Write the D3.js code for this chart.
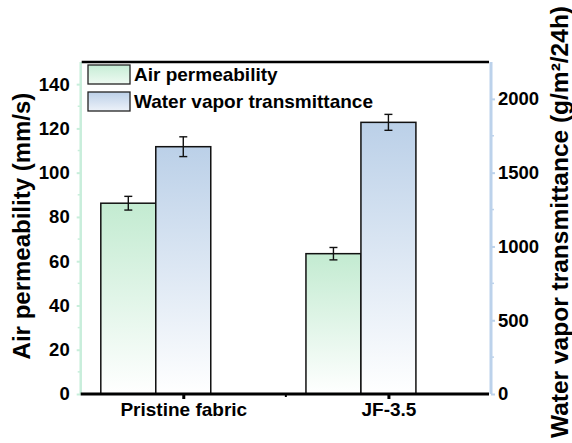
<!DOCTYPE html>
<html>
<head>
<meta charset="utf-8">
<script src="https://cdn.jsdelivr.net/npm/d3@7"></script>
<style>
  body { margin: 0; background: #fff; }
  svg text { font-family: Arial, "Liberation Sans", sans-serif; font-weight: bold; fill: #000; }
</style>
</head>
<body>
<div id="chart"></div>
<script>
// data
const categories = ["Pristine fabric", "JF-3.5"];
const airPerm = [86.2, 63.4];        // mm/s
const airPermErr = [3.1, 2.8];
const wvt = [1676, 1841];            // g/m2/24h
const wvtErr = [67, 54];
const leftTicks = [0, 20, 40, 60, 80, 100, 120, 140];
const rightTicks = [0, 500, 1000, 1500, 2000];
const seriesNames = ["Air permeability", "Water vapor transmittance"];

const W = 572, H = 443;
const plotL = 80.7, plotR = 491, plotT = 62, plotB = 394;
const barW = 0.268;

const green = "#c3ebd1", blue = "#bbd0e8";
const greenAxis = "#c8eedb", blueAxis = "#bcd2eb";

const svg = d3.select("#chart").append("svg")
    .attr("width", W)
    .attr("height", H);

// gradients, colour at the top fading to white
const defs = svg.append("defs");
function grad(id, c0, c1) {
    const g = defs.append("linearGradient")
        .attr("id", id)
        .attr("x1", "0%").attr("y1", "0%")
        .attr("x2", "0%").attr("y2", "100%");
    g.append("stop").attr("offset", "0%").attr("stop-color", c0);
    g.append("stop").attr("offset", "100%").attr("stop-color", c1);
}
grad("g-green", green, "#ffffff");
grad("g-blue", blue, "#ffffff");
grad("g-green-leg", "#c6edd5", "#eefaf2");
grad("g-blue-leg", "#bcd0e8", "#edf2f9");

const x = d3.scaleLinear().domain([0.5, 2.5]).range([plotL, plotR]);
const yL = d3.scaleLinear().domain([0, 150]).range([plotB, plotT]);
const yR = d3.scaleLinear().domain([0, 2250]).range([plotB, plotT]);

// bars
const rows = categories.map((c, i) => ({
    c: c, pos: i + 1,
    a: airPerm[i], ae: airPermErr[i],
    w: wvt[i], we: wvtErr[i]
}));

svg.selectAll("rect.air").data(rows).enter().append("rect")
    .attr("class", "air")
    .attr("x", d => x(d.pos - 1.5 * barW))
    .attr("width", d => x(d.pos - barW / 2) - x(d.pos - 1.5 * barW))
    .attr("y", d => yL(d.a))
    .attr("height", d => yL(0) - yL(d.a))
    .attr("fill", "url(#g-green)")
    .attr("stroke", "#111")
    .attr("stroke-width", 1.5);

svg.selectAll("rect.wvt").data(rows).enter().append("rect")
    .attr("class", "wvt")
    .attr("x", d => x(d.pos - barW / 2))
    .attr("width", d => x(d.pos + barW / 2) - x(d.pos - barW / 2))
    .attr("y", d => yR(d.w))
    .attr("height", d => yR(0) - yR(d.w))
    .attr("fill", "url(#g-blue)")
    .attr("stroke", "#111")
    .attr("stroke-width", 1.5);

// error bars
function errBar(cx, y0, y1) {
    const g = svg.append("g").attr("stroke", "#111").attr("stroke-width", 1.4);
    g.append("line").attr("x1", cx).attr("x2", cx).attr("y1", y0).attr("y2", y1);
    g.append("line").attr("x1", cx - 4).attr("x2", cx + 4).attr("y1", y0).attr("y2", y0);
    g.append("line").attr("x1", cx - 4).attr("x2", cx + 4).attr("y1", y1).attr("y2", y1);
}
rows.forEach(d => {
    errBar(x(d.pos - barW), yL(d.a + d.ae), yL(d.a - d.ae));
    errBar(x(d.pos), yR(d.w + d.we), yR(d.w - d.we));
});

// left axis (green)
const gl = svg.append("g")
    .attr("transform", `translate(${plotL},0)`)
    .call(d3.axisLeft(yL).tickValues(leftTicks).tickSize(4).tickPadding(7));
gl.select(".domain").remove();
gl.selectAll(".tick line").attr("stroke", greenAxis).attr("stroke-width", 2);
gl.selectAll("text").style("font-size", "18.5px");
svg.append("g").selectAll("line")
    .data(d3.range(10, 150, 20)).enter().append("line")
    .attr("x1", plotL - 3).attr("x2", plotL)
    .attr("y1", d => yL(d)).attr("y2", d => yL(d))
    .attr("stroke", greenAxis).attr("stroke-width", 1.5);
svg.append("line")
    .attr("x1", plotL).attr("x2", plotL).attr("y1", plotT).attr("y2", plotB)
    .attr("stroke", greenAxis).attr("stroke-width", 2.5);

// right axis (blue)
const gr = svg.append("g")
    .attr("transform", `translate(${plotR},0)`)
    .call(d3.axisRight(yR).tickValues(rightTicks).tickFormat(d3.format("d"))
        .tickSize(4).tickPadding(3));
gr.select(".domain").remove();
gr.selectAll(".tick line").attr("stroke", blueAxis).attr("stroke-width", 2);
gr.selectAll("text").style("font-size", "18.5px");
svg.append("g").selectAll("line")
    .data(d3.range(250, 2250, 500)).enter().append("line")
    .attr("x1", plotR).attr("x2", plotR + 3)
    .attr("y1", d => yR(d)).attr("y2", d => yR(d))
    .attr("stroke", blueAxis).attr("stroke-width", 1.5);
svg.append("line")
    .attr("x1", plotR).attr("x2", plotR).attr("y1", plotT).attr("y2", plotB)
    .attr("stroke", blueAxis).attr("stroke-width", 3);

// top border
svg.append("line")
    .attr("x1", plotL + 1).attr("x2", plotR - 2).attr("y1", plotT).attr("y2", plotT)
    .attr("stroke", "#000").attr("stroke-width", 2.5);

// bottom axis
const gb = svg.append("g")
    .attr("transform", `translate(0,${plotB})`)
    .call(d3.axisBottom(x).tickValues([1, 2]).tickFormat((d, i) => categories[i])
        .tickSize(5).tickPadding(4));
gb.select(".domain").remove();
gb.selectAll(".tick line").attr("stroke", "#000").attr("stroke-width", 3);
gb.selectAll("text").style("font-size", "19px");
svg.append("line")
    .attr("x1", x(1.5)).attr("x2", x(1.5)).attr("y1", plotB).attr("y2", plotB + 3)
    .attr("stroke", "#000").attr("stroke-width", 2);
svg.append("line")
    .attr("x1", plotL).attr("x2", plotR - 2).attr("y1", plotB).attr("y2", plotB)
    .attr("stroke", "#000").attr("stroke-width", 3);

// axis titles
svg.append("text")
    .attr("transform", "translate(30,226) rotate(-90)")
    .attr("text-anchor", "middle")
    .style("font-size", "24px")
    .text("Air permeability (mm/s)");
svg.append("text")
    .attr("transform", "translate(568,222) rotate(-90)")
    .attr("text-anchor", "middle")
    .style("font-size", "24.5px")
    .text("Water vapor transmittance (g/m\u00b2/24h)");

// legend
const legFill = ["url(#g-green-leg)", "url(#g-blue-leg)"];
const leg = svg.append("g").selectAll("g")
    .data(seriesNames).enter().append("g")
    .attr("transform", (d, i) => `translate(88,${65 + i * 27})`);
leg.append("rect")
    .attr("width", 42).attr("height", 19)
    .attr("fill", (d, i) => legFill[i])
    .attr("stroke", "#222").attr("stroke-width", 1.3);
leg.append("text")
    .attr("x", 46).attr("y", 16)
    .style("font-size", "19px")
    .text(d => d);
</script>
</body>
</html>
